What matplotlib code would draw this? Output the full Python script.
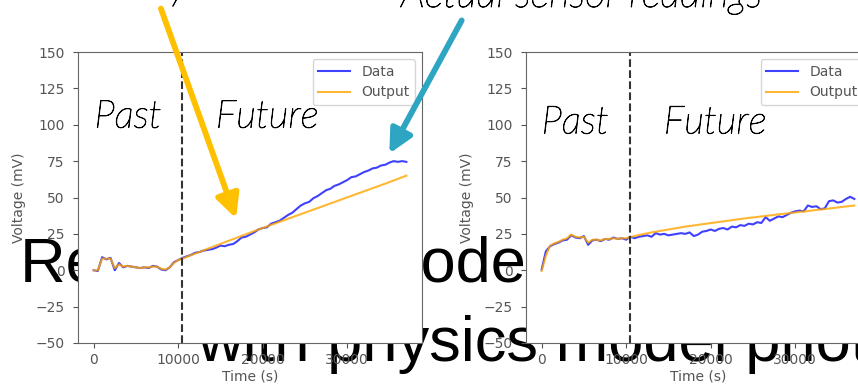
import numpy as np
import matplotlib
matplotlib.use("Agg")
import matplotlib.pyplot as plt
import matplotlib.patheffects as pe
from matplotlib.patches import FancyArrowPatch

# sample times (s), one reading every 500 s
t = np.arange(0, 37001, 500)
t_split = 10500   # end of the past window

# sensor run 1
data1 = [0, -0.5, 9, 7.5, 8.5, 0, 5, 2, 3, 2.5, 2, 1.5, 2, 1.5, 3, 2.5, 0.5, 0, 2, 5.5, 7,
         8.5, 9.5, 10.5, 12, 12.5, 13.5, 14, 14.5, 15.5, 17, 16.5, 17.5, 18, 20, 22.5, 23,
         24.5, 26, 28, 29, 29.5, 32, 33, 34, 36, 38, 39.5, 42, 44.5, 46, 47, 49.5, 51, 53,
         55, 56, 58, 59, 60.5, 62, 64, 64.5, 66, 67.5, 68.5, 70, 70.5, 72, 72.5, 74, 75,
         74.5, 75, 74.5]
out1 = [0, 0, 8, 8, 8, 1.5, 4, 2.5, 3, 2.5, 2, 1.5, 2, 2, 2.5, 2.5, 1, 0.5, 2, 5, 7,
        8, 9.1, 10.3, 11.4, 12.5, 13.6, 14.8, 15.9, 17, 18.1, 19.2, 20.3, 21.4, 22.5, 23.6,
        24.7, 25.8, 26.9, 28, 29, 30.1, 31.2, 32.2, 33.3, 34.3, 35.4, 36.4, 37.5, 38.5,
        39.6, 40.6, 41.7, 42.7, 43.8, 44.8, 45.9, 46.9, 48, 49, 50.1, 51.1, 52.2, 53.2,
        54.3, 55.3, 56.4, 57.4, 58.5, 59.5, 60.6, 61.7, 62.8, 63.9, 65]

# sensor run 2
data2 = [0.5, 13, 16.5, 18, 19, 20.5, 21, 24, 22.5, 22, 23.5, 17.5, 20.5, 21, 20, 21.5, 21,
         22.5, 21.5, 22, 21, 23, 22, 23, 23.5, 24, 23, 25.5, 24.5, 25, 24, 24.5, 25, 25.5,
         25, 26, 23.5, 24.5, 26.5, 27, 28, 27, 28.5, 29, 28, 30, 29.5, 31, 30.5, 32, 31.5,
         33, 32.5, 36.5, 34, 35.5, 37, 36.5, 38, 39.5, 40.5, 41, 40.5, 44.5, 43.5, 44, 42,
         42.5, 47.5, 48, 46.5, 47, 49, 50.5, 49]
out2 = [-0.5, 10, 17, 18.5, 19.5, 21, 22, 24.5, 23, 22.5, 23, 19, 21, 21, 20.5, 21.5, 21.5,
        22, 21.5, 22, 22, 22.8, 23.5, 24.2, 24.8, 25.4, 26, 26.5, 27, 27.5, 28, 28.5, 29,
        29.5, 30, 30.4, 30.8, 31.2, 31.6, 32, 32.4, 32.8, 33.2, 33.6, 34, 34.4, 34.8, 35.2,
        35.6, 36, 36.3, 36.6, 37, 37.3, 37.7, 38, 38.4, 38.7, 39, 39.4, 39.7, 40.1, 40.4,
        40.7, 41.1, 41.4, 41.8, 42.1, 42.4, 42.8, 43.1, 43.5, 43.8, 44.1, 44.5]

xticks = [0, 10000, 20000, 30000]
yticks = [-50, -25, 0, 25, 50, 75, 100, 125, 150]

W, H = 858, 387
fig = plt.figure(figsize=(W / 100, H / 100), dpi=100)
fig.patch.set_facecolor("white")


def fx(px):
    return px / W


def fy(py):
    return 1 - py / H


# light italic, thickened a little
thin = [pe.withStroke(linewidth=0.6, foreground="black")]

# slide layer under the plots: the white plot areas cover it
bg = fig.add_axes([0, 0, 1, 1], zorder=-1)
bg.set_xlim(0, W)
bg.set_ylim(H, 0)
bg.axis("off")
big = dict(fontsize=45.5, family="Liberation Sans", color="black")
bg.text(20, 282, "Replacing decoder", ha="left", va="baseline", **big)
bg.text(197, 361, "with physics model photo", ha="left", va="baseline", **big)

callout = dict(fontsize=29, family="Lato", style="italic", weight="light",
               color="black", path_effects=thin)
bg.text(128, -1, "Physics model", ha="left", va="baseline", **callout)
bg.text(401, 7, "Actual sensor readings", ha="left", va="baseline", **callout)

gray = "#555555"
note = dict(fontsize=28, family="Lato", style="italic", weight="light",
            color="black", path_effects=thin)


def draw_panel(left, data, out, label_y, past_x):
    ax = fig.add_axes([fx(left), 44 / H, 344 / W, 291 / H])
    ax.set_facecolor("white")
    ax.plot(t, data, color="blue", alpha=0.75, lw=1.5, label="Data")
    ax.plot(t, out, color="orange", alpha=0.8, lw=1.5, label="Output")
    ax.axvline(t_split, color="#333333", ls="--", lw=1.5)
    ax.set_xlim(-1850, 38850)
    ax.set_ylim(-50, 150)
    ax.set_xticks(xticks)
    ax.set_yticks(yticks)
    ax.tick_params(labelsize=10, colors=gray, labelcolor=gray)
    ax.tick_params(axis="y", pad=6)
    for s in ax.spines.values():
        s.set_color("#666666")
    ax.set_xlabel("Time (s)", fontsize=10, color=gray, labelpad=2)
    ax.set_ylabel("Voltage (mV)", fontsize=10, color=gray, labelpad=7)
    ax.legend(loc="upper right", fontsize=10, labelcolor=gray, handlelength=2.3)
    ax.text(past_x, label_y, "Past", **note)
    ax.text(14450, label_y, "Future", **note)
    return ax


ax1 = draw_panel(78, data1, out1, 98, 100)
ax2 = draw_panel(526, data2, out2, 94, 0)

# arrows pointing at the two curves
arrow_kw = dict(arrowstyle="-|>,head_length=0.7,head_width=0.35", mutation_scale=20,
                lw=4.2, transform=fig.transFigure, zorder=5)
fig.add_artist(FancyArrowPatch((fx(160), fy(6)), (fx(237), fy(221)),
                               color="#FFC000", **arrow_kw))
fig.add_artist(FancyArrowPatch((fx(463), fy(18)), (fx(388), fy(156)),
                               color="#2EA5C2", **arrow_kw))

fig.savefig("out.png", dpi=100, facecolor="white")
